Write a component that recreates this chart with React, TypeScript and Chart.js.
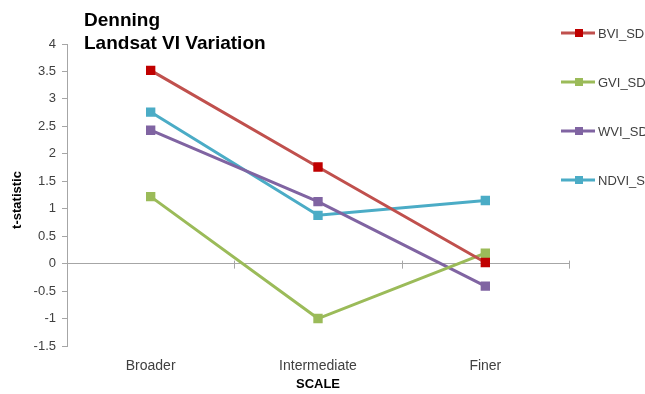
import React, { useEffect, useRef } from "react";
import { Chart, registerables } from "chart.js";

Chart.register(...registerables);

const categories = ["Broader", "Intermediate", "Finer"];
const bviSD = [3.52, 1.76, 0.02];
const gviSD = [1.22, -1.0, 0.19];
const wviSD = [2.43, 1.13, -0.41];
const ndviSD = [2.76, 0.88, 1.15];
const seriesNames = ["BVI_SD", "GVI_SD", "WVI_SD", "NDVI_SD"];
const titleLines = ["Denning", "Landsat VI Variation"];
const yTitle = "t-statistic";
const xTitle = "SCALE";

const lineColors = ["#C0504D", "#9BBB59", "#8064A2", "#4BACC6"];
const pointColors = ["#C00000", "#9BBB59", "#8064A2", "#4BACC6"];
const AXIS = "#A6A6A6";
const FONT = "'Liberation Sans', Arial, sans-serif";

const decorations = {
  id: "decorations",
  afterDraw(chart: any) {
    const { ctx, chartArea } = chart;
    const y = chart.scales.y;
    const y0 = y.getPixelForValue(0);
    ctx.save();

    // category boundary ticks on the zero line
    ctx.strokeStyle = AXIS;
    ctx.lineWidth = 1;
    const w = (chartArea.right - chartArea.left) / categories.length;
    for (let i = 0; i <= categories.length; i++) {
      const x = Math.round(chartArea.left + i * w) + 0.5;
      ctx.beginPath();
      ctx.moveTo(x, y0 - 3);
      ctx.lineTo(x, y0 + 5);
      ctx.stroke();
    }

    // chart title
    ctx.fillStyle = "#000";
    ctx.font = `bold 19px ${FONT}`;
    ctx.textAlign = "left";
    ctx.textBaseline = "alphabetic";
    ctx.fillText(titleLines[0], 84, 26);
    ctx.fillText(titleLines[1], 84, 49);

    // axis titles
    ctx.font = `bold 13px ${FONT}`;
    ctx.textAlign = "center";
    ctx.textBaseline = "middle";
    ctx.fillText(xTitle, (chartArea.left + chartArea.right) / 2, 384);
    ctx.save();
    ctx.translate(17, 200);
    ctx.rotate(-Math.PI / 2);
    ctx.fillText(yTitle, 0, 0);
    ctx.restore();

    // legend
    ctx.font = `13px ${FONT}`;
    ctx.textAlign = "left";
    chart.data.datasets.forEach((ds: any, i: number) => {
      const ly = 33 + 49 * i;
      ctx.strokeStyle = lineColors[i];
      ctx.lineWidth = 3;
      ctx.beginPath();
      ctx.moveTo(561, ly);
      ctx.lineTo(595, ly);
      ctx.stroke();
      ctx.fillStyle = pointColors[i];
      ctx.fillRect(575, ly - 4, 8, 8);
      ctx.fillStyle = "#404040";
      ctx.fillText(ds.label, 598, ly + 1);
    });
    ctx.restore();
  },
};

export default function App() {
  const ref = useRef<HTMLCanvasElement>(null);

  useEffect(() => {
    if (!ref.current) return;
    const values = [bviSD, gviSD, wviSD, ndviSD];
    const chart = new Chart(ref.current, {
      type: "line",
      data: {
        labels: categories,
        datasets: values.map((data, i) => ({
          label: seriesNames[i],
          data,
          borderColor: lineColors[i],
          backgroundColor: pointColors[i],
          pointBackgroundColor: pointColors[i],
          pointBorderColor: pointColors[i],
          pointStyle: "rect",
          pointRadius: 4.5,
          borderWidth: 3,
          tension: 0,
          fill: false,
        })),
      },
      options: {
        responsive: false,
        animation: false,
        layout: { padding: { left: 0, top: 44, right: 76, bottom: 0 } },
        plugins: { legend: { display: false }, tooltip: { enabled: false }, title: { display: false } },
        scales: {
          x: {
            offset: true,
            border: { display: false },
            grid: { display: true, color: "rgba(0,0,0,0)", drawTicks: false, drawOnChartArea: false },
            ticks: { color: "#404040", font: { family: FONT, size: 14 }, padding: 12 },
            afterFit: (s: any) => {
              s.height = 48;
            },
          },
          y: {
            min: -1.5,
            max: 4,
            border: { display: true, color: AXIS },
            grid: {
              color: (c: any) => (c.tick && c.tick.value === 0 ? AXIS : "rgba(0,0,0,0)"),
              tickColor: AXIS,
              tickLength: 5,
            },
            ticks: {
              stepSize: 0.5,
              color: "#404040",
              font: { family: FONT, size: 13 },
              padding: 6,
              callback: (v: any) => String(Number(v)),
            },
            afterFit: (s: any) => {
              s.width = 67;
            },
          },
        },
      },
      plugins: [decorations],
    });
    return () => chart.destroy();
  }, []);

  return (
    <div style={{ position: "fixed", left: 0, top: 0, width: 645, height: 394, background: "#fff" }}>
      <canvas ref={ref} width={645} height={394} />
    </div>
  );
}
